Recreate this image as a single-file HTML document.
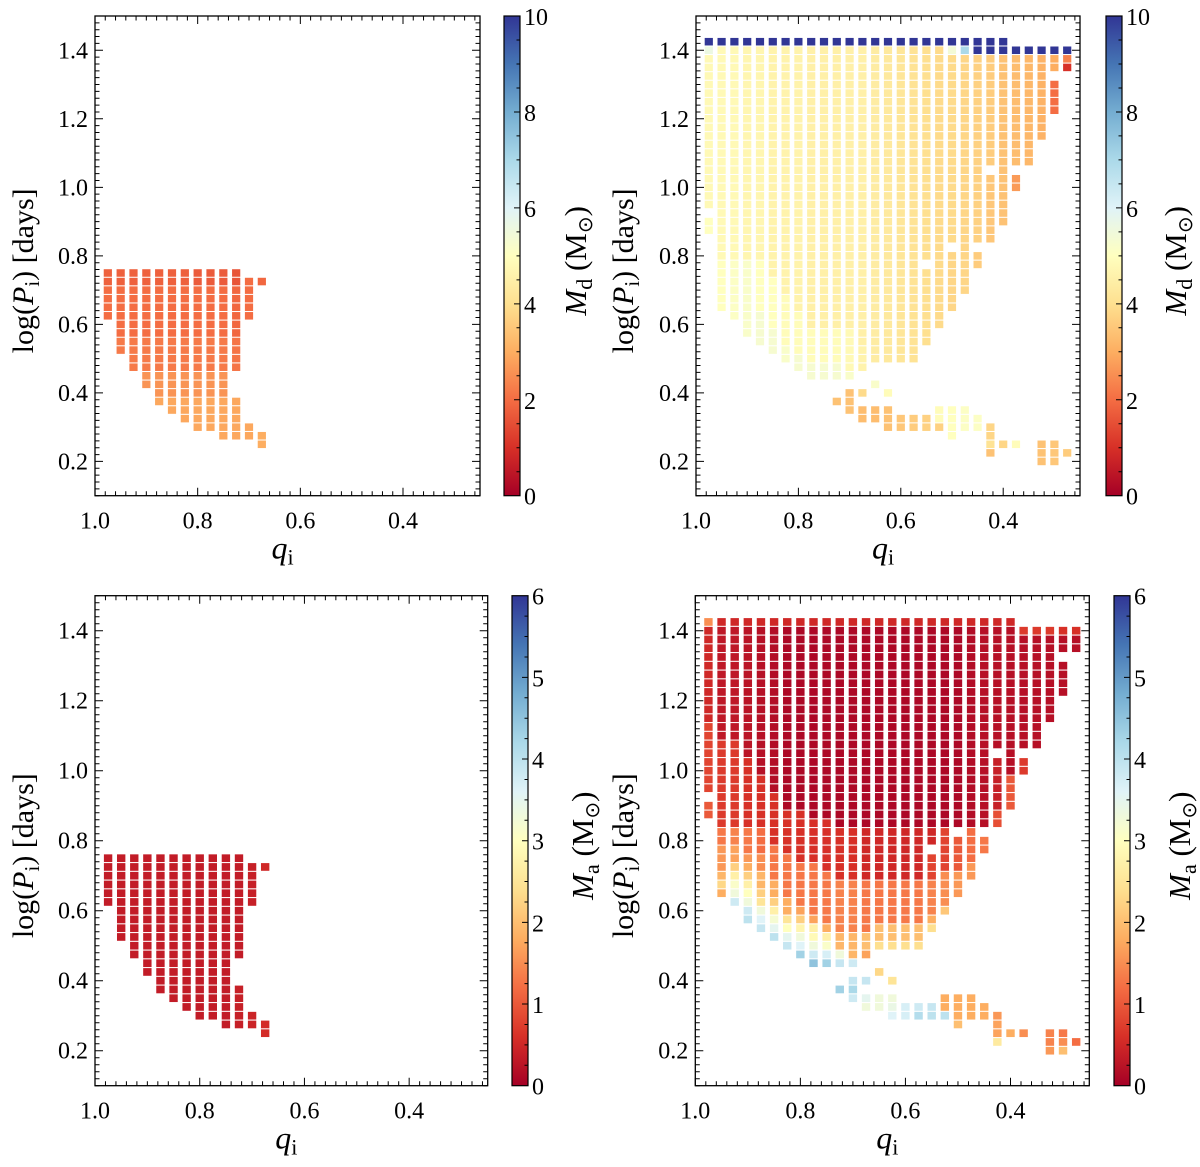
<!DOCTYPE html>
<html><head><meta charset="utf-8"><style>
html,body{margin:0;padding:0;background:#fff;}
svg, svg text{font-family:"Liberation Serif","Times New Roman",serif;}
</style></head><body>
<svg id="fig" width="1200" height="1162" viewBox="0 0 1200 1162" xmlns="http://www.w3.org/2000/svg" font-family="Liberation Serif, serif"></svg>
<script>
// ---- data ----
const leftQs = [0.975,0.95,0.925,0.9,0.875,0.85,0.825,0.8,0.775,0.75,0.725,0.7,0.675];
const rightQs = [0.975,0.95,0.925,0.9,0.875,0.85,0.825,0.8,0.775,0.75,0.725,0.7,0.675,0.65,0.625,0.6,0.575,0.55,0.525,0.5,0.475,0.45,0.425,0.4,0.375,0.35,0.325,0.3,0.275];
const xTickLabels = [1.0,0.8,0.6,0.4];
const yTickLabels = [0.2,0.4,0.6,0.8,1.0,1.2,1.4];
const mdTicks = [0,2,4,6,8,10];
const maTicks = [0,1,2,3,4,5,6];
// segments per column: [logP top, logP bottom, value]
const tlSegs = [
 [[0.75,0.725,1.8],[0.7,0.625,2.0]],
 [[0.75,0.725,1.8],[0.7,0.575,2.0],[0.55,0.525,2.2]],
 [[0.75,0.725,1.8],[0.7,0.575,2.0],[0.55,0.475,2.2]],
 [[0.75,0.725,1.8],[0.7,0.575,2.0],[0.55,0.475,2.2],[0.45,0.425,2.6]],
 [[0.75,0.725,1.8],[0.7,0.575,2.0],[0.55,0.475,2.2],[0.45,0.4,2.6],[0.375,0.375,2.9]],
 [[0.75,0.725,1.8],[0.7,0.575,2.0],[0.55,0.475,2.2],[0.45,0.4,2.6],[0.375,0.35,2.9]],
 [[0.75,0.725,1.8],[0.7,0.575,2.0],[0.55,0.475,2.2],[0.45,0.4,2.6],[0.375,0.325,2.9]],
 [[0.75,0.725,1.7],[0.7,0.575,2.0],[0.55,0.475,2.2],[0.45,0.4,2.6],[0.375,0.3,2.9]],
 [[0.75,0.725,1.7],[0.7,0.575,2.0],[0.55,0.475,2.2],[0.45,0.4,2.6],[0.375,0.3,2.9]],
 [[0.75,0.725,1.7],[0.7,0.575,2.0],[0.55,0.475,2.2],[0.45,0.4,2.6],[0.375,0.275,2.9]],
 [[0.75,0.725,1.6],[0.7,0.575,1.9],[0.55,0.475,2.1],[0.375,0.275,2.9]],
 [[0.725,0.625,2.0],[0.3,0.275,2.9]],
 [[0.725,0.725,1.9],[0.275,0.25,3.0]]
];
const blSegs = [
 [[0.75,0.625,0.35]],
 [[0.75,0.525,0.35]],
 [[0.75,0.475,0.35]],
 [[0.75,0.425,0.35]],
 [[0.75,0.375,0.35]],
 [[0.75,0.35,0.35]],
 [[0.75,0.325,0.35]],
 [[0.75,0.3,0.35]],
 [[0.75,0.3,0.35]],
 [[0.75,0.275,0.35]],
 [[0.75,0.475,0.35],[0.375,0.275,0.4]],
 [[0.725,0.625,0.4],[0.3,0.275,0.45]],
 [[0.725,0.725,0.5],[0.275,0.25,0.55]]
];
const trSegs = [
 [[1.425,1.425,10],[1.4,1.4,5.6],[1.375,0.95,4.8],[0.9,0.875,5.0]],
 [[1.425,1.425,10],[1.4,0.8,4.8],[0.775,0.65,5.0]],
 [[1.425,1.425,10],[1.4,0.8,4.8],[0.775,0.625,5.1]],
 [[1.425,1.425,10],[1.4,0.8,4.7],[0.775,0.575,5.2]],
 [[1.425,1.425,10],[1.4,0.8,4.7],[0.775,0.65,5.0],[0.625,0.55,5.3]],
 [[1.425,1.425,10],[1.4,0.75,4.6],[0.725,0.6,5.0],[0.575,0.525,5.3]],
 [[1.425,1.425,10],[1.4,0.7,4.6],[0.675,0.55,4.9],[0.525,0.5,5.2]],
 [[1.425,1.425,10],[1.4,0.65,4.6],[0.625,0.525,4.9],[0.5,0.475,5.3]],
 [[1.425,1.425,10],[1.4,0.6,4.5],[0.575,0.5,4.9],[0.475,0.45,5.3]],
 [[1.425,1.425,10],[1.4,0.6,4.5],[0.575,0.5,4.9],[0.475,0.45,5.3]],
 [[1.425,1.425,10],[1.4,0.6,4.5],[0.575,0.5,4.9],[0.475,0.45,5.3],[0.375,0.375,3.4]],
 [[1.425,1.425,10],[1.4,0.6,4.5],[0.575,0.475,4.8],[0.45,0.45,5.2],[0.4,0.35,3.4]],
 [[1.425,1.425,10],[1.4,0.55,4.5],[0.525,0.475,4.6],[0.4,0.4,3.9],[0.35,0.325,3.3]],
 [[1.425,1.425,10],[1.4,0.5,4.4],[0.425,0.425,5.2],[0.35,0.325,3.3]],
 [[1.425,1.425,10],[1.4,0.5,4.3],[0.4,0.4,4.9],[0.35,0.3,3.4]],
 [[1.425,1.425,10],[1.4,0.5,4.2],[0.325,0.3,3.5]],
 [[1.425,1.425,10],[1.4,0.5,4.1],[0.325,0.3,3.6]],
 [[1.425,1.425,10],[1.4,0.8,4.0],[0.75,0.55,4.0],[0.325,0.3,3.7]],
 [[1.425,1.425,10],[1.4,0.6,3.9],[0.35,0.325,4.9],[0.3,0.3,3.7]],
 [[1.425,1.425,10],[1.4,1.4,5.4],[1.375,0.85,3.9],[0.8,0.65,3.8],[0.35,0.275,5.0]],
 [[1.425,1.425,10],[1.4,1.4,7.0],[1.375,0.7,3.8],[0.35,0.3,5.1]],
 [[1.425,1.4,10],[1.375,0.85,3.7],[0.8,0.775,3.6],[0.325,0.3,5.1]],
 [[1.425,1.4,10],[1.375,1.075,3.6],[1.025,0.85,3.5],[0.3,0.275,3.8],[0.25,0.25,4.1],[0.225,0.225,3.4]],
 [[1.425,1.4,10],[1.375,0.9,3.4],[0.25,0.25,3.8]],
 [[1.4,1.4,10],[1.375,1.075,3.3],[1.025,1.0,2.7],[0.25,0.25,4.9]],
 [[1.4,1.4,10],[1.375,1.075,3.2]],
 [[1.4,1.4,10],[1.375,1.15,3.1],[0.25,0.2,3.4]],
 [[1.4,1.4,10],[1.375,1.35,3.0],[1.3,1.225,2.0],[0.25,0.2,3.5]],
 [[1.4,1.4,10],[1.375,1.375,2.3],[1.35,1.35,1.0],[0.225,0.225,3.6]]
];
const brSegs = [
 [[1.425,1.425,1.5],[1.4,1.15,0.5],[1.125,0.95,0.8],[0.9,0.875,1.0]],
 [[1.425,1.425,0.5],[1.4,1.1,0.3],[1.075,0.85,0.7],[0.825,0.8,1.3],[0.775,0.725,1.6],[0.7,0.7,1.9],[0.675,0.675,2.3],[0.65,0.65,1.8]],
 [[1.425,1.425,0.5],[1.4,1.1,0.3],[1.075,0.85,0.7],[0.825,0.8,1.4],[0.775,0.75,1.7],[0.725,0.725,2.2],[0.7,0.7,2.7],[0.675,0.675,3.1],[0.65,0.65,3.3],[0.625,0.625,3.8]],
 [[1.425,1.425,0.5],[1.4,1.05,0.25],[1.025,0.85,0.6],[0.825,0.775,1.3],[0.75,0.75,1.6],[0.725,0.725,1.8],[0.7,0.7,2.2],[0.675,0.675,2.7],[0.65,0.65,3.0],[0.625,0.625,3.3],[0.6,0.6,3.8],[0.575,0.575,4.0]],
 [[1.425,1.425,0.5],[1.4,1.0,0.2],[0.975,0.85,0.6],[0.825,0.775,1.2],[0.75,0.725,1.5],[0.7,0.675,1.9],[0.65,0.65,2.2],[0.625,0.625,2.5],[0.6,0.6,3.3],[0.575,0.575,3.6],[0.55,0.55,3.9]],
 [[1.425,1.425,0.5],[1.4,0.95,0.15],[0.925,0.8,0.6],[0.775,0.7,1.3],[0.675,0.65,1.8],[0.625,0.625,2.2],[0.6,0.6,2.7],[0.575,0.575,3.2],[0.55,0.55,3.5],[0.525,0.525,4.0]],
 [[1.425,1.425,0.5],[1.4,0.9,0.1],[0.875,0.775,0.6],[0.75,0.65,1.3],[0.625,0.6,1.8],[0.575,0.575,2.5],[0.55,0.55,3.0],[0.525,0.525,3.5],[0.5,0.5,3.9]],
 [[1.425,1.425,0.5],[1.4,0.9,0.1],[0.875,0.75,0.6],[0.725,0.625,1.3],[0.6,0.6,1.7],[0.575,0.575,2.2],[0.55,0.55,2.8],[0.525,0.525,3.3],[0.5,0.5,3.6],[0.475,0.475,4.3]],
 [[1.425,1.425,0.5],[1.4,0.875,0.1],[0.85,0.75,0.6],[0.725,0.6,1.3],[0.575,0.575,1.7],[0.55,0.55,2.7],[0.525,0.525,2.9],[0.5,0.5,3.3],[0.475,0.475,3.8],[0.45,0.45,4.5]],
 [[1.425,1.425,0.5],[1.4,0.875,0.1],[0.85,0.725,0.6],[0.7,0.575,1.3],[0.55,0.55,1.8],[0.525,0.525,2.7],[0.5,0.5,3.1],[0.475,0.475,3.7],[0.45,0.45,4.3]],
 [[1.425,1.425,0.5],[1.4,0.85,0.1],[0.825,0.7,0.6],[0.675,0.55,1.4],[0.525,0.5,1.9],[0.475,0.475,3.3],[0.45,0.45,3.9],[0.375,0.375,4.3]],
 [[1.425,1.425,0.5],[1.4,0.85,0.1],[0.825,0.7,0.6],[0.675,0.55,1.4],[0.525,0.475,1.9],[0.45,0.45,3.8],[0.4,0.4,3.9],[0.375,0.375,4.2],[0.35,0.35,3.8]],
 [[1.425,1.425,0.5],[1.4,0.85,0.1],[0.825,0.7,0.5],[0.675,0.55,1.3],[0.525,0.5,2.0],[0.475,0.475,1.7],[0.4,0.4,3.9],[0.35,0.35,3.5],[0.325,0.325,3.3]],
 [[1.425,1.425,0.5],[1.4,0.85,0.1],[0.825,0.7,0.5],[0.675,0.575,1.3],[0.55,0.525,2.0],[0.5,0.5,2.4],[0.425,0.425,2.3],[0.35,0.325,3.3]],
 [[1.425,1.425,0.5],[1.4,0.85,0.1],[0.825,0.7,0.5],[0.675,0.575,1.3],[0.55,0.525,2.0],[0.5,0.5,2.4],[0.4,0.4,2.5],[0.35,0.35,3.3],[0.325,0.325,3.4],[0.3,0.3,3.6]],
 [[1.425,1.425,0.5],[1.4,0.85,0.1],[0.825,0.7,0.5],[0.675,0.575,1.3],[0.55,0.525,2.0],[0.5,0.5,2.4],[0.325,0.3,3.7]],
 [[1.425,1.425,0.5],[1.4,0.85,0.1],[0.825,0.7,0.5],[0.675,0.575,1.3],[0.55,0.525,2.0],[0.5,0.5,2.4],[0.325,0.325,3.8],[0.3,0.3,4.1]],
 [[1.425,1.425,0.5],[1.4,0.85,0.1],[0.825,0.8,0.5],[0.75,0.7,0.8],[0.675,0.6,1.4],[0.575,0.575,1.8],[0.55,0.55,2.4],[0.325,0.325,3.9],[0.3,0.3,4.0]],
 [[1.425,1.425,0.5],[1.4,0.85,0.1],[0.825,0.725,0.8],[0.7,0.625,1.5],[0.6,0.6,2.1],[0.35,0.325,1.8],[0.3,0.3,4.0]],
 [[1.425,1.425,0.5],[1.4,0.85,0.1],[0.8,0.725,1.0],[0.7,0.65,1.6],[0.35,0.3,1.8],[0.275,0.275,2.0]],
 [[1.425,1.425,0.5],[1.4,0.85,0.15],[0.825,0.75,1.2],[0.725,0.7,1.6],[0.35,0.3,1.8]],
 [[1.425,1.425,0.5],[1.4,0.85,0.2],[0.8,0.775,1.3],[0.325,0.3,1.8]],
 [[1.425,1.425,0.5],[1.4,1.075,0.2],[1.025,0.9,0.4],[0.875,0.85,0.9],[0.3,0.3,1.6],[0.275,0.25,1.7],[0.225,0.225,2.6]],
 [[1.425,1.425,0.5],[1.4,1.0,0.2],[0.975,0.9,1.0],[0.25,0.25,1.8]],
 [[1.4,1.4,0.7],[1.375,1.075,0.2],[1.025,1.0,0.7],[0.25,0.25,1.5]],
 [[1.4,1.4,0.7],[1.375,1.075,0.2]],
 [[1.4,1.4,0.7],[1.375,1.15,0.2],[0.25,0.225,1.4],[0.2,0.2,1.6]],
 [[1.4,1.4,0.6],[1.375,1.35,0.2],[1.3,1.225,0.2],[0.25,0.25,1.3],[0.225,0.225,1.5],[0.2,0.2,2.0]],
 [[1.4,1.4,0.6],[1.375,1.35,0.2],[0.225,0.225,1.2]]
];

// ---- rendering ----
const NS = 'http://www.w3.org/2000/svg';
const svg = document.getElementById('fig');
const FONT = 'Liberation Serif, Times New Roman, serif';
const stops = ['#a50026','#d73027','#f46d43','#fdae61','#fee090','#ffffbf','#e0f3f8','#abd9e9','#74add1','#4575b4','#313695'];
function hex(h){return [parseInt(h.substr(1,2),16),parseInt(h.substr(3,2),16),parseInt(h.substr(5,2),16)];}
function cmap(t){t=Math.max(0,Math.min(1,t));const s=t*10;const i=Math.min(9,Math.floor(s));const f=s-i;const a=hex(stops[i]),b=hex(stops[i+1]);
 return 'rgb('+a.map((v,j)=>Math.round(v+(b[j]-v)*f)).join(',')+')';}
function mk(tag,attrs,parent){const e=document.createElementNS(NS,tag);for(const k in attrs)e.setAttribute(k,attrs[k]);if(tag==='text')e.setAttribute('font-family',FONT);(parent||svg).appendChild(e);return e;}

const defs = mk('defs',{});
const grad = mk('linearGradient',{id:'cbgrad',x1:'0',y1:'1',x2:'0',y2:'0'},defs);
stops.forEach((c,i)=>mk('stop',{offset:(i*10)+'%','stop-color':c},grad));

const panels = [
 {name:'donor-mass-narrow',x0:95,x1:480,y0:16,y1:495.7,cb0:504,cb1:520,qs:leftQs,segs:tlSegs,vmax:10,ticks:mdTicks,minorStep:0.5,sub:'d',cbLabX:586,ylabX:33},
 {name:'donor-mass-wide',x0:696,x1:1080,y0:16,y1:495.7,cb0:1106,cb1:1122,qs:rightQs,segs:trSegs,vmax:10,ticks:mdTicks,minorStep:0.5,sub:'d',cbLabX:1186,ylabX:633},
 {name:'accretor-mass-narrow',x0:95,x1:487.7,y0:595.7,y1:1085.7,cb0:512,cb1:528,qs:leftQs,segs:blSegs,vmax:6,ticks:maTicks,minorStep:0.25,sub:'a',cbLabX:593,ylabX:33},
 {name:'accretor-mass-wide',x0:695.3,x1:1089.3,y0:595.7,y1:1085.7,cb0:1114,cb1:1130,qs:rightQs,segs:brSegs,vmax:6,ticks:maTicks,minorStep:0.25,sub:'a',cbLabX:1190,ylabX:633}
];

panels.forEach(P=>{
 const g = mk('g',{});
 
 
 const sx = q => P.x0 + (1.0-q)/0.75*(P.x1-P.x0);
 const sy = p => P.y0 + (1.5-p)/1.4*(P.y1-P.y0);
 const dx = (P.x1-P.x0)/0.75*0.025, dy=(P.y1-P.y0)/1.4*0.025;
 const cw = dx*0.64, ch = dy*0.88;
 const cells = mk('g',{},g);
 
 
 P.segs.forEach((col,ci)=>{
  const q = P.qs[ci];
  col.forEach(seg=>{
   const kTop=Math.round(seg[0]*40), kBot=Math.round(seg[1]*40);
   for(let k=kTop;k>=kBot;k--){
    const p=k/40;
    const r = mk('rect',{x:(sx(q)-cw/2).toFixed(2),y:(sy(p)-ch/2).toFixed(2),width:cw.toFixed(2),height:ch.toFixed(2),fill:cmap(seg[2]/P.vmax)},cells);
    
    
   }
  });
 });
 const fr = mk('rect',{x:P.x0,y:P.y0,width:P.x1-P.x0,height:P.y1-P.y0,fill:'none',stroke:'#000','stroke-width':1.3},g);
 
 
 let d='';
 for(let i=5;i<=75;i++){
  const p=i/50, y=sy(p); const major=(i%10===0); const L=major?8:4.5;
  d+=`M${P.x0},${y}h${L}M${P.x1},${y}h${-L}`;
 }
 for(let i=13;i<=50;i++){
  const q=i/50, x=sx(q); const major=(i%10===0); const L=major?8:4.5;
  d+=`M${x},${P.y1}v${-L}M${x},${P.y0}v${L}`;
 }
 const tk=mk('path',{d:d,stroke:'#000','stroke-width':1,fill:'none'},g);
 
 
 yTickLabels.forEach(v=>{
  const t=mk('text',{x:P.x0-7,y:sy(v)+8,'text-anchor':'end','font-size':24},g); t.textContent=v.toFixed(1);
  
  
 });
 xTickLabels.forEach(v=>{
  const t=mk('text',{x:sx(v),y:P.y1+33,'text-anchor':'middle','font-size':24},g); t.textContent=v.toFixed(1);
  
  
 });
 const xl=mk('text',{x:(P.x0+P.x1)/2-5,y:P.y1+63,'text-anchor':'middle','font-size':32},g);
 xl.innerHTML='<tspan font-style="italic">q</tspan><tspan font-size="22" dy="6">i</tspan>';
 
 
 const yc=(P.y0+P.y1)/2+15;
 const yl=mk('text',{x:0,y:0,'text-anchor':'middle','font-size':30,transform:`translate(${P.ylabX},${yc}) rotate(-90)`},g);
 yl.innerHTML='log(<tspan font-style="italic">P</tspan><tspan font-size="21" dy="6">i</tspan><tspan dy="-6">) [days]</tspan>';
 
 
 const cb=mk('rect',{x:P.cb0,y:P.y0,width:P.cb1-P.cb0,height:P.y1-P.y0,fill:'url(#cbgrad)',stroke:'#000','stroke-width':1.2},g);
 
 
 const cy = v => P.y1 - v/P.vmax*(P.y1-P.y0);
 let cd='';
 const nMinor=Math.round(P.vmax/P.minorStep);
 for(let i=1;i<nMinor;i++){const v=i*P.minorStep; const major=P.ticks.includes(v); cd+=`M${P.cb1},${cy(v)}h${major?-6:-3.5}`;}
 const ct=mk('path',{d:cd,stroke:'#000','stroke-width':1},g);
 
 
 P.ticks.forEach(v=>{
  const t=mk('text',{x:P.cb1+4,y:cy(v)+9,'font-size':24},g); t.textContent=String(v);
  
  
 });
 const cl=mk('text',{x:0,y:0,'text-anchor':'middle','font-size':31,transform:`translate(${P.cbLabX},${(P.y0+P.y1)/2+5}) rotate(-90)`},g);
 cl.innerHTML='<tspan font-style="italic">M</tspan><tspan font-size="22" dy="6">'+P.sub+'</tspan><tspan dy="-6"> (M</tspan><tspan font-size="20" dy="6" font-family="DejaVu Sans">⊙</tspan><tspan dy="-6">)</tspan>';
 
 
});
</script>
</body></html>
